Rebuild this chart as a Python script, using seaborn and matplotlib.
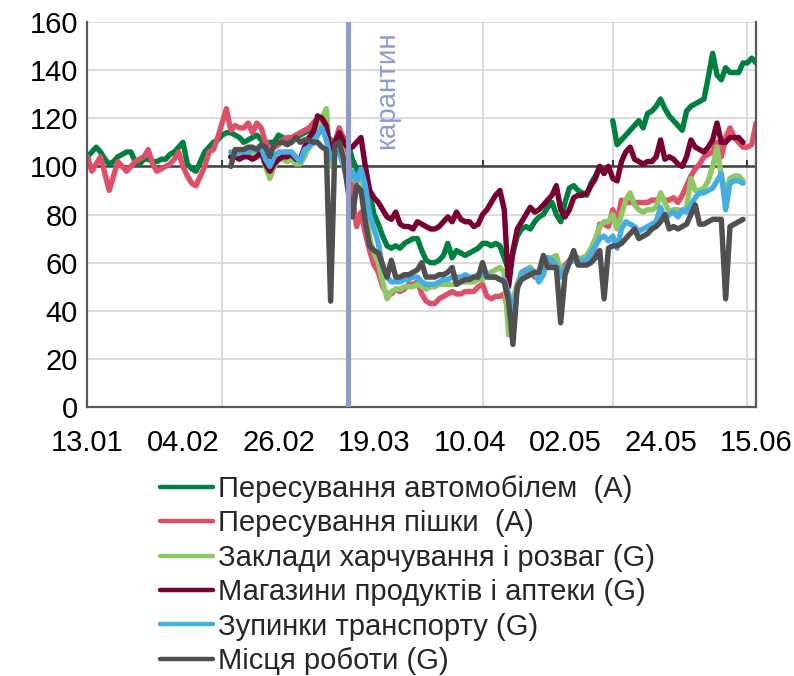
import matplotlib
matplotlib.use("Agg")
import matplotlib.pyplot as plt
import matplotlib.dates as mdates
from matplotlib.lines import Line2D
import numpy as np
import pandas as pd
import seaborn as sns

sns.set_style("white")
plt.rcParams["font.family"] = ["Liberation Sans", "DejaVu Sans"]

# Dates
apple_start = "2020-01-13"
google_start = "2020-02-15"
quarantine = "2020-03-13"

labels = [
    "Пересування автомобілем  (A)",
    "Пересування пішки  (A)",
    "Заклади харчування і розваг (G)",
    "Магазини продуктів і аптеки (G)",
    "Зупинки транспорту (G)",
    "Місця роботи (G)",
]
colors = ["#00803E", "#DF4F67", "#8CC965", "#780032", "#45ADE3", "#505050"]

nan = np.nan

# Apple (13.01 - 15.06)
driving = [
    104, 106, 108, 106, 103, 101, 102, 104, 105, 106,
    106, 102, 101, 103, 103, 102, 102, 103, 103, 105,
    106, 108, 110, 101, 99, 98, 102, 106, 108, 110,
    111, 113, 114, 114, 113, 112, 110, 111, 112, 113,
    111, 109, 110, 110, 113, 112, 111, 111, 112, 113,
    114, 115, 116, 118, 115, 113, 111, 110, 114, 112,
    110, 103, 99, 95, 91, 89, 80, 76, 71, 67,
    66, 67, 66, 68, 69, 70, 70, 65, 61, 60,
    60, 61, 63, 68, 62, 65, 64, 63, 64, 65,
    66, 68, 68, 67, 68, 67, 62, 57, 64, 71,
    74, 75, 74, 77, 79, 80, 83, 85, 80, 77,
    85, 91, 92, 90, 89, 88, 93, 96, 100, nan,
    nan, 119, 109, 111, 113, 115, 117, 119, 116, 122,
    123, 125, 128, 124, 121, 119, 117, 115, 123, 125,
    126, 127, 128, 137, 147, 138, 136, 141, 139, 139,
    139, 143, 143, 145, 143,
]
walking = [
    104, 98, 101, 104, 97, 90, 96, 102, 100, 98,
    100, 102, 103, 104, 107, 101, 98, 99, 100, 101,
    103, 106, 100, 96, 93, 92, 96, 100, 106, 107,
    112, 118, 124, 115, 117, 116, 116, 118, 114, 118,
    116, 110, 107, 108, 109, 111, 112, 112, 113, 114,
    115, 116, 118, 120, 117, 113, 110, 110, 116, 111,
    106, 88, 75, 81, 72, 65, 59, 56, 50, 47,
    47, 49, 48, 49, 51, 51, 52, 47, 44, 43,
    43, 45, 46, 47, 48, 47, 47, 48, 48, 48,
    50, 51, 46, 45, 46, 46, 47, 39, 44, 49,
    54, 56, 58, 54, 55, 60, 62, 60, 58, 56,
    59, 61, 63, 62, 60, 60, 61, 67, 76, 76,
    75, 82, 77, 86, 85, 85, 85, 85, 85, 85,
    86, 86, 87, 86, 86, 87, 85, 88, 92, 96,
    99, 101, 104, 105, 106, 110, 104, 112, 116, 112,
    110, 108, 108, 109, 118,
]

# Google (15.02 - 12.06)
food = [
    104, 104, 104, 105, 105, 105, 105,
    106, 100, 95, 100, 103, 103, 102, 103, 101, 101,
    104, 108, 110, 115, 120, 124, 100, 108, 110, 104,
    97, 96, 93, 98, 85, 70, 64, 60, 52, 45,
    48, 49, 49, 50, 50, 50, 51, 50, 49, 50,
    50, 51, 51, 51, 51, 51, 52, 52, 52, 52,
    53, 53, 55, 56, 57, 58, 56, 30, 45, 51,
    56, 57, 58, 56, 54, 58, 62, 62, 63, 56,
    58, 60, 61, 61, 62, 63, 66, 70, 75, 77,
    77, 80, 74, 80, 86, 89, 84, 82, 81, 82,
    82, 83, 89, 85, 81, 82, 82, 81, 83, 95,
    90, 90, 91, 94, 100, 108, 96, 89, 95, 96,
    96, 94,
]
grocery = [
    104, 104, 103, 104, 104, 103, 104,
    106, 101, 98, 101, 103, 104, 104, 105, 103, 103,
    108, 112, 114, 121, 120, 117, 106, 110, 114, 110,
    108, 108, 110, 112, 100, 90, 87, 85, 82, 79,
    78, 81, 76, 75, 75, 74, 77, 76, 75, 74,
    74, 75, 77, 79, 77, 81, 78, 77, 77, 75,
    76, 80, 82, 85, 88, 90, 82, 50, 65, 74,
    77, 80, 83, 81, 82, 84, 86, 88, 92, 82,
    79, 82, 87, 88, 88, 89, 92, 95, 100, 97,
    100, 95, 94, 102, 106, 108, 103, 102, 101, 102,
    102, 104, 111, 103, 104, 103, 101, 100, 104, 111,
    108, 107, 106, 108, 111, 118, 110, 110, 112, 112,
    112, 110,
]
transit = [
    106, 105, 106, 106, 106, 107, 107,
    108, 103, 100, 104, 106, 106, 106, 106, 104, 102,
    107, 108, 110, 113, 116, 111, 103, 105, 106, 100,
    93, 98, 94, 99, 92, 80, 74, 68, 58, 54,
    52, 52, 52, 53, 53, 54, 54, 52, 51, 51,
    51, 52, 53, 53, 54, 54, 54, 55, 54, 54,
    55, 55, 55, 54, 54, 53, 53, 47, 39, 49,
    56, 57, 57, 56, 52, 55, 62, 61, 59, 54,
    58, 60, 61, 60, 61, 61, 64, 67, 70, 71,
    69, 71, 66, 74, 77, 76, 75, 73, 74, 75,
    76, 77, 83, 78, 80, 81, 79, 82, 81, 84,
    87, 89, 89, 90, 91, 94, 97, 82, 93, 94,
    94, 93,
]
work = [
    100, 107, 107, 107, 108, 108, 107,
    109, 108, 104, 109, 110, 110, 109, 110, 112, 110,
    111, 111, 110, 110, 108, 107, 44, 109, 110, 103,
    90, 79, 92, 90, 77, 67, 65, 64, 59, 54,
    61, 54, 54, 55, 55, 56, 57, 60, 54, 54,
    54, 55, 55, 56, 58, 51, 52, 53, 53, 54,
    54, 60, 54, 54, 54, 53, 52, 44, 26, 50,
    53, 54, 55, 56, 56, 63, 58, 58, 58, 35,
    55, 60, 65, 59, 59, 59, 60, 62, 65, 45,
    66, 67, 67, 68, 70, 72, 74, 70, 71, 72,
    74, 75, 77, 80, 74, 75, 74, 75, 76, 80,
    84, 76, 76, 77, 78, 78, 78, 45, 75, 76,
    77, 78,
]

series = [
    (labels[0], apple_start, driving),
    (labels[1], apple_start, walking),
    (labels[2], google_start, food),
    (labels[3], google_start, grocery),
    (labels[4], google_start, transit),
    (labels[5], google_start, work),
]

frames = []
for name, start, vals in series:
    s = pd.Series(vals, index=pd.date_range(start, periods=len(vals)), dtype=float)
    seg = s.isna().cumsum()
    df = pd.DataFrame({"date": s.index, "value": s.values, "series": name,
                       "unit": name + seg.astype(str).values})
    frames.append(df.dropna())
data = pd.concat(frames, ignore_index=True)

fig = plt.figure(figsize=(7.94, 6.76), dpi=100)
ax = fig.add_axes([0.1102, 0.3979, 0.842, 0.5695])

grid_c = "#D9D9D9"
axis_c = "#595959"
fs = 21

# month gridlines (13th of month)
month_lines = pd.date_range("2020-02-13", periods=5, freq=pd.DateOffset(months=1))
ax.set_xticks(month_lines, minor=True)
ax.grid(which="minor", axis="x", color=grid_c, lw=1.3)
ax.grid(which="major", axis="y", color=grid_c, lw=1.3)
ax.set_axisbelow(True)

ax.axhline(100, color="#404040", lw=1.8, zorder=1.5)
ax.vlines(month_lines, 100, 102.5, color="#404040", lw=1.5, zorder=1.5)

sns.lineplot(data=data, x="date", y="value", hue="series", hue_order=labels,
             palette=colors, units="unit", estimator=None, linewidth=3.9,
             legend=False, ax=ax, solid_joinstyle="round", solid_capstyle="round")

q = pd.Timestamp(quarantine)
ax.axvline(q, color="#8E9BD3", lw=3.6, zorder=3)
ax.text(q + pd.Timedelta(days=9), 156, "карантин", rotation=90, ha="center",
        va="top", color="#8E9BD3", fontsize=fs - 1)

ax.set_xlim(pd.Timestamp("2020-01-13"), pd.Timestamp("2020-06-15"))
ax.set_ylim(0, 160)
ax.set_yticks(range(0, 161, 20))
ax.set_xticks(pd.date_range("2020-01-13", "2020-06-15", freq="22D"))
ax.xaxis.set_major_formatter(mdates.DateFormatter("%d.%m"))
ax.set_xlabel("")
ax.set_ylabel("")

ax.spines["top"].set_visible(False)
for side in ["left", "bottom", "right"]:
    ax.spines[side].set_color(axis_c)
    ax.spines[side].set_linewidth(1.6)
ax.tick_params(axis="y", which="major", direction="in", length=6, width=1.5,
               color=axis_c, labelsize=fs, pad=7, labelcolor="black")
ax.tick_params(axis="x", which="both", length=0, labelsize=fs, pad=16,
               labelcolor="black")

handles = [Line2D([0], [0], color=c, lw=3.2) for c in colors]
fig.legend(handles, labels, loc="upper left", bbox_to_anchor=(160 / 794, 1 - 475 / 676),
           frameon=False, fontsize=fs, handlelength=1.8, handletextpad=0.2,
           labelspacing=0.22, borderpad=0, borderaxespad=0)

fig.savefig("out.png", dpi=100)
